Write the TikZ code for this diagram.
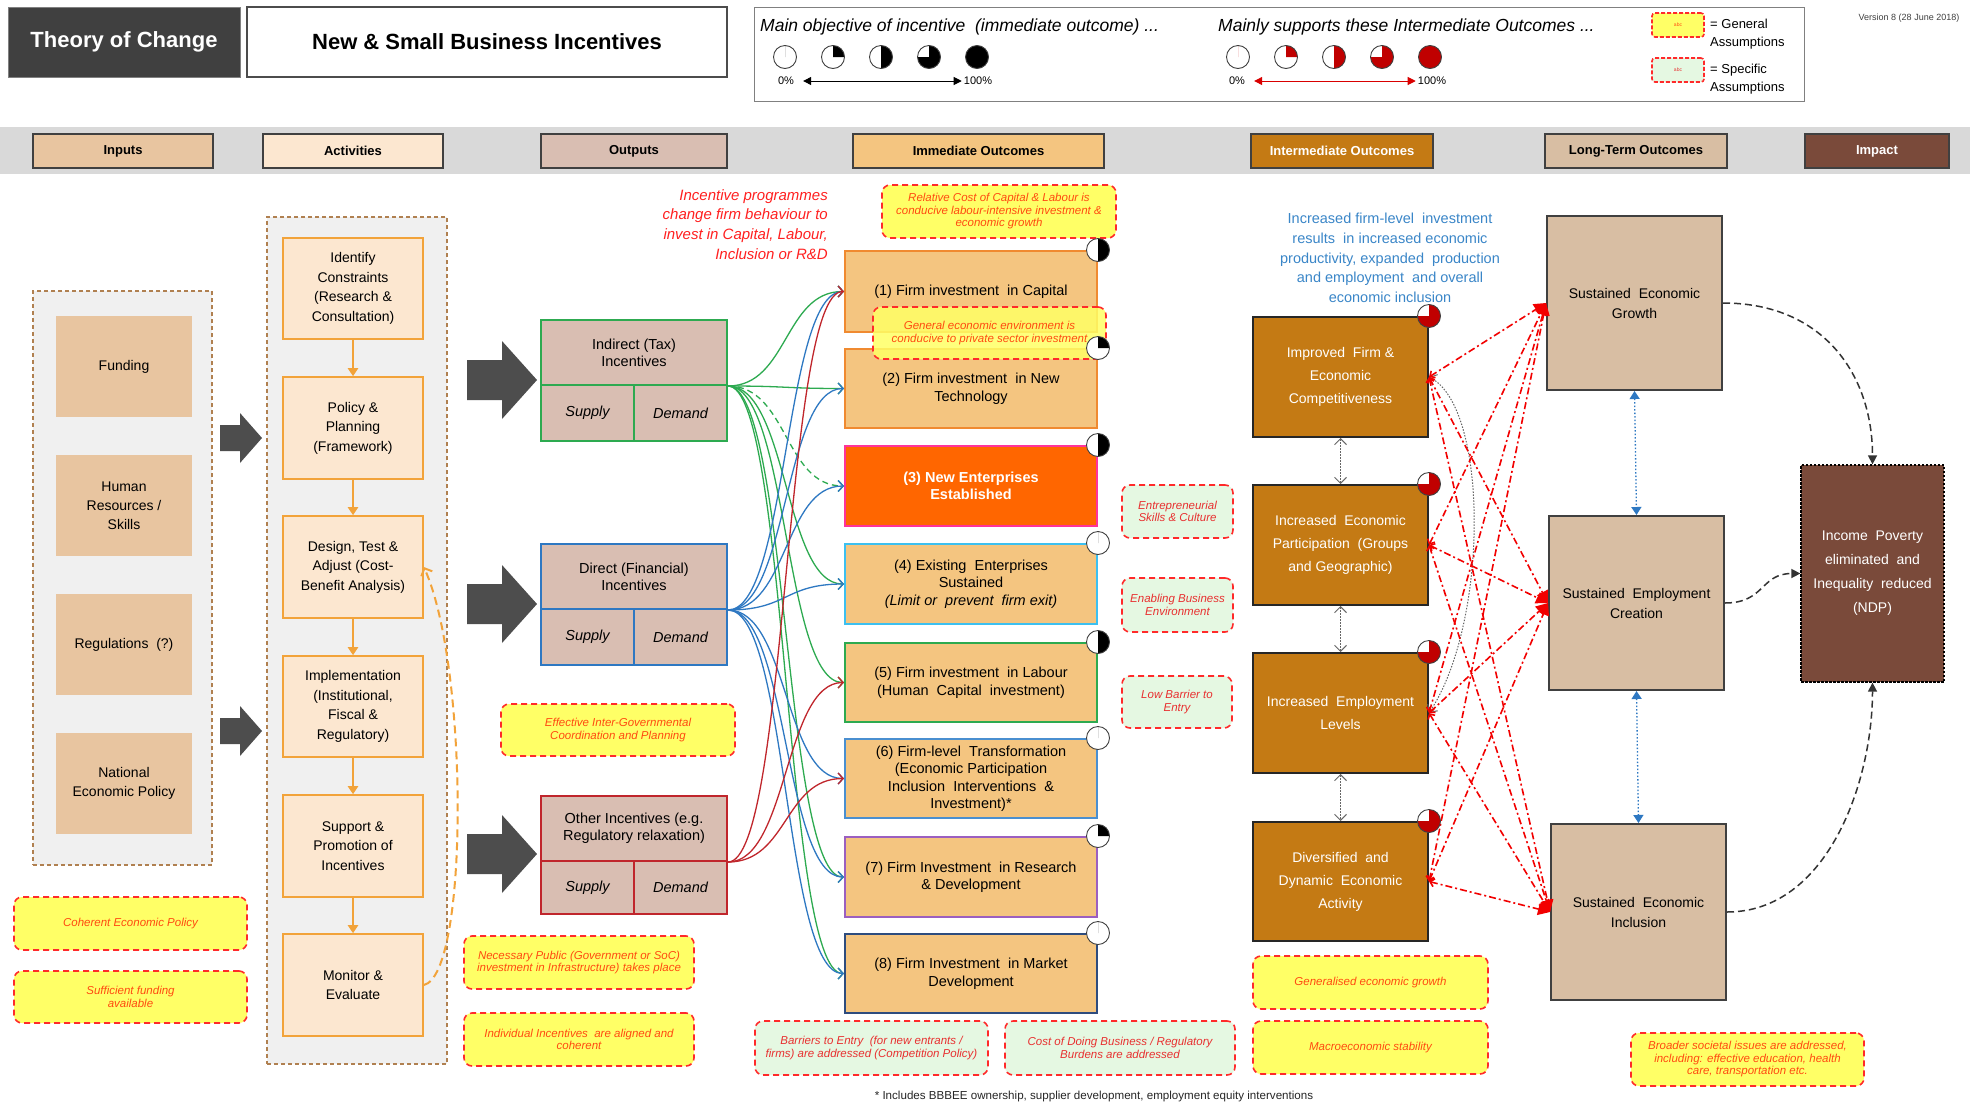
\documentclass[tikz,border=0pt]{standalone}
\usepackage{fontspec}
\setmainfont{Liberation Sans}
\usetikzlibrary{arrows.meta,calc}

\definecolor{tocgray}{HTML}{404040}
\definecolor{bandgray}{HTML}{D9D9D9}
\definecolor{boxgray}{HTML}{F0F0F0}
\definecolor{inputfill}{HTML}{E8C5A0}
\definecolor{actfill}{HTML}{FCE7D0}
\definecolor{actline}{HTML}{F2A33A}
\definecolor{outfill}{HTML}{D9BEB2}
\definecolor{immfill}{HTML}{F4C580}
\definecolor{intfill}{HTML}{C47A14}
\definecolor{longfill}{HTML}{D8BEA3}
\definecolor{impfill}{HTML}{7A4A3A}
\definecolor{contline}{HTML}{B08050}
\definecolor{asyellow}{HTML}{FFFF66}
\definecolor{asgreen}{HTML}{E5F8E2}
\definecolor{asred}{HTML}{FF2A2A}
\definecolor{astextY}{HTML}{FF4A10}
\definecolor{astextG}{HTML}{E83030}
\definecolor{gline}{HTML}{2DAA50}
\definecolor{bline}{HTML}{2E78C2}
\definecolor{rline}{HTML}{C0262C}
\definecolor{newent}{HTML}{FF6600}
\definecolor{pinkline}{HTML}{FF3399}
\definecolor{cyanline}{HTML}{3CC0F0}
\definecolor{purpline}{HTML}{9B5FC0}
\definecolor{navyline}{HTML}{2E4C7E}
\definecolor{orline}{HTML}{F08A30}
\definecolor{steelline}{HTML}{4A8FD0}
\definecolor{piered}{HTML}{C00000}
\definecolor{bluetext}{HTML}{3A86C8}
\definecolor{redtext}{HTML}{FF2020}
\definecolor{arrowgray}{HTML}{4D4D4D}

% box from corner coordinates: style, x1, y1, x2, y2, name, text
\newcommand{\mkbox}[7]{\node[inner sep=1pt, align=center, #1, minimum width={#4-#2}, minimum height={#5-#3}] (#6) at ({(#2+#4)/2},{(#3+#5)/2}) {#7};}
% pie marker: centre, start angle, end angle, fill colour
\newcommand{\piechart}[4]{%
  \fill[white] #1 circle[radius=11.5pt];
  \fill[#4] #1 -- ++(#2:11.5pt) arc[start angle=#2, end angle=#3, radius=11.5pt] -- cycle;
  \draw[black!75, line width=0.9pt] #1 circle[radius=11.5pt];}
% thick block arrow: x1, x2, y centre, body half height, head half height, head length
\newcommand{\bigarrow}[6]{%
  \fill[arrowgray] (#1,{#3-#4}) -- ({#2-#6},{#3-#4}) -- ({#2-#6},{#3-#5}) -- (#2,#3)
    -- ({#2-#6},{#3+#5}) -- ({#2-#6},{#3+#4}) -- (#1,{#3+#4}) -- cycle;}

\begin{document}
\begin{tikzpicture}[x=1pt,y=-1pt,
  tabbox/.style={draw=black!75, line width=1.3pt, font=\fontsize{13}{15}\selectfont\bfseries},
  container/.style={fill=boxgray, draw=contline, line width=1.6pt, dash pattern=on 4pt off 3pt},
  inbox/.style={fill=inputfill, font=\fontsize{14}{19}\selectfont},
  actbox/.style={fill=actfill, draw=actline, line width=1.6pt, font=\fontsize{14}{19.5}\selectfont},
  outbox/.style={fill=outfill, line width=2pt, font=\fontsize{14.5}{17}\selectfont},
  immbox/.style={fill=immfill, line width=2pt, font=\fontsize{14.5}{17.5}\selectfont},
  intbox/.style={fill=intfill, draw=black!85, line width=2pt, text=white, font=\fontsize{14}{23}\selectfont},
  longbox/.style={fill=longfill, draw=black!75, line width=2pt, font=\fontsize{14}{20}\selectfont},
  asm/.style={rounded corners=8pt, draw=asred, line width=1.6pt, dash pattern=on 6pt off 4pt, font=\fontsize{11.5}{12.5}\selectfont\itshape},
  asy/.style={asm, fill=asyellow, text=astextY},
  asg/.style={asm, fill=asgreen, text=astextG},
  gconn/.style={draw=gline, line width=1.3pt, -{Straight Barb[length=5pt,width=11pt]}},
  bconn/.style={draw=bline, line width=1.3pt, -{Straight Barb[length=5pt,width=11pt]}},
  rconn/.style={draw=rline, line width=1.3pt, -{Straight Barb[length=5pt,width=11pt]}},
  actarrow/.style={draw=actline, line width=2pt, -{Triangle[length=8pt,width=10pt]}},
  fback/.style={draw=actline, line width=2pt, dash pattern=on 8pt off 5pt, -{Straight Barb[length=6pt,width=12pt]}},
  rdd/.style={draw=red!95!black, line width=1.6pt, dash pattern=on 7pt off 3pt on 2pt off 3pt,
    {Straight Barb[length=4pt,width=8pt]}-{Triangle[length=12pt,width=12pt]}},
  gdot/.style={draw=black!60, line width=1pt, dash pattern=on 1.5pt off 1.5pt,
    {Straight Barb[length=6pt,width=12pt]}-{Straight Barb[length=6pt,width=12pt]}},
  bdot/.style={draw=bline, line width=1.3pt, dash pattern=on 1.5pt off 2pt,
    {Triangle[length=8pt,width=10pt]}-{Triangle[length=8pt,width=10pt]}},
  kdash/.style={draw=black!80, line width=1.5pt, dash pattern=on 7pt off 4pt, -{Triangle[length=9pt,width=9pt]}}
]
\useasboundingbox (0,0) rectangle (1982,1109);
\fill[white] (0,0) rectangle (1982,1109);

%% ---------- header ----------
\mkbox{fill=tocgray, draw=black!50, line width=1pt, text=white, font=\fontsize{22}{26}\selectfont\bfseries}{8}{7}{240}{77}{toc}{Theory of Change}
\mkbox{fill=white, draw=black!70, line width=1.2pt, font=\fontsize{22}{26}\selectfont\bfseries}{247}{7}{727}{77}{title}{New \& Small Business Incentives}
\mkbox{fill=white, draw=black!50, line width=1pt}{754}{7}{1804}{101}{legend}{}

\node[anchor=west, inner sep=0, font=\fontsize{17.5}{20}\selectfont\itshape] (lgA) at (760,27) {Main objective of incentive\ \ (immediate outcome) ...};
\node[anchor=west, inner sep=0, font=\fontsize{17.5}{20}\selectfont\itshape] (lgB) at (1218,27) {Mainly supports these Intermediate Outcomes ...};
\piechart{(785,57)}{90}{90}{black}
\piechart{(833,57)}{0}{90}{black}
\piechart{(881,57)}{-90}{90}{black}
\piechart{(929,57)}{180}{450}{black}
\piechart{(977,57)}{90}{450}{black}
\node[font=\fontsize{11}{12}\selectfont, inner sep=1pt] (lgz1) at (786,81) {0\%};
\node[font=\fontsize{11}{12}\selectfont, inner sep=1pt] (lgh1) at (978,81) {100\%};
\draw[black, line width=1pt, {Triangle[length=8pt,width=8pt]}-{Triangle[length=8pt,width=8pt]}] (lgz1.east) ++(8,0) -- ($(lgh1.west)+(-1,0)$);
\piechart{(1238,57)}{90}{90}{piered}
\piechart{(1286,57)}{0}{90}{piered}
\piechart{(1334,57)}{-90}{90}{piered}
\piechart{(1382,57)}{180}{450}{piered}
\piechart{(1430,57)}{90}{450}{piered}
\node[font=\fontsize{11}{12}\selectfont, inner sep=1pt] (lgz2) at (1237,81) {0\%};
\node[font=\fontsize{11}{12}\selectfont, inner sep=1pt] (lgh2) at (1432,81) {100\%};
\draw[red!85!black, line width=1pt, {Triangle[length=8pt,width=8pt]}-{Triangle[length=8pt,width=8pt]}] (lgz2.east) ++(8,0) -- ($(lgh2.west)+(-1,0)$);

\mkbox{asy, rounded corners=3pt, dash pattern=on 4pt off 2pt, font=\fontsize{5}{6}\selectfont}{1652}{13}{1704}{37}{smpY}{abc}
\mkbox{asg, rounded corners=3pt, dash pattern=on 4pt off 2pt, font=\fontsize{5}{6}\selectfont}{1652}{58}{1704}{82}{smpG}{abc}
\node[anchor=west, align=left, inner sep=0, font=\fontsize{13}{18}\selectfont] (lgGen) at (1710,34) {= General\\Assumptions};
\node[anchor=west, align=left, inner sep=0, font=\fontsize{13}{18}\selectfont] (lgSpec) at (1710,79) {= Specific\\Assumptions};
\node[font=\fontsize{9}{10}\selectfont, text=black!75] (ver) at (1909,18) {Version 8 (28 June 2018)};

%% ---------- column headings ----------
\fill[bandgray] (0,127) rectangle (1970,174);
\mkbox{tabbox, fill=inputfill}{33}{134}{213}{168}{tIn}{Inputs}
\mkbox{tabbox, fill=actfill}{263}{134}{443}{168}{tAct}{Activities}
\mkbox{tabbox, fill=outfill}{541}{134}{727}{168}{tOut}{Outputs}
\mkbox{tabbox, fill=immfill}{853}{134}{1104}{168}{tImm}{Immediate Outcomes}
\mkbox{tabbox, fill=intfill, text=white}{1251}{134}{1433}{168}{tInt}{Intermediate Outcomes}
\mkbox{tabbox, fill=longfill}{1545}{134}{1727}{168}{tLong}{Long-Term Outcomes}
\mkbox{tabbox, fill=impfill, text=white}{1805}{134}{1949}{168}{tImp}{Impact}

%% ---------- inputs ----------
\mkbox{container}{33}{291}{212}{865}{inpC}{}
\mkbox{inbox}{56}{316}{192}{417}{in1}{Funding}
\mkbox{inbox}{56}{455}{192}{556}{in2}{Human\\Resources /\\Skills}
\mkbox{inbox}{56}{594}{192}{695}{in3}{Regulations\ \ (?)}
\mkbox{inbox}{56}{733}{192}{834}{in4}{National\\Economic Policy}
\mkbox{asy}{14}{897}{247}{950}{asCoh}{Coherent Economic Policy}
\mkbox{asy}{14}{971}{247}{1023}{asFund}{Sufficient funding\\available}
\bigarrow{220}{262}{438}{13}{25}{22}
\bigarrow{220}{262}{731}{13}{25}{22}

%% ---------- activities ----------
\mkbox{container}{267}{217}{447}{1064}{actC}{}
\mkbox{actbox}{283}{238}{423}{339}{a1}{Identify\\Constraints\\(Research \&\\Consultation)}
\mkbox{actbox}{283}{377}{423}{479}{a2}{Policy \&\\Planning\\(Framework)}
\mkbox{actbox}{283}{516}{423}{618}{a3}{Design, Test \&\\Adjust (Cost-\\Benefit Analysis)}
\mkbox{actbox}{283}{656}{423}{757}{a4}{Implementation\\(Institutional,\\Fiscal \&\\Regulatory)}
\mkbox{actbox}{283}{795}{423}{897}{a5}{Support \&\\Promotion of\\Incentives}
\mkbox{actbox}{283}{934}{423}{1036}{a6}{Monitor \&\\Evaluate}
\foreach \p/\q in {a1/a2,a2/a3,a3/a4,a4/a5,a5/a6}
  {\draw[actarrow] (\p.south) -- (\q.north);}
\draw[fback] (a6.east) .. controls +(45,-10) and +(45,100) .. (a3.east);

%% ---------- outputs ----------
\bigarrow{467}{537}{380}{20}{39}{35}
\bigarrow{467}{537}{604}{20}{39}{35}
\bigarrow{467}{537}{854}{20}{39}{35}
\mkbox{outbox, draw=gline}{541}{320}{727}{385}{ind}{Indirect (Tax)\\Incentives}
\mkbox{outbox, draw=gline, font=\fontsize{14.5}{17}\selectfont\itshape}{541}{385}{634}{441}{indS}{Supply}
\mkbox{outbox, draw=gline, font=\fontsize{14.5}{17}\selectfont\itshape}{634}{385}{727}{441}{indD}{Demand}
\mkbox{outbox, draw=bline}{541}{544}{727}{609}{dir}{Direct (Financial)\\Incentives}
\mkbox{outbox, draw=bline, font=\fontsize{14.5}{17}\selectfont\itshape}{541}{609}{634}{665}{dirS}{Supply}
\mkbox{outbox, draw=bline, font=\fontsize{14.5}{17}\selectfont\itshape}{634}{609}{727}{665}{dirD}{Demand}
\mkbox{outbox, draw=rline}{541}{796}{727}{861}{oth}{Other Incentives (e.g.\\Regulatory relaxation)}
\mkbox{outbox, draw=rline, font=\fontsize{14.5}{17}\selectfont\itshape}{541}{861}{634}{914}{othS}{Supply}
\mkbox{outbox, draw=rline, font=\fontsize{14.5}{17}\selectfont\itshape}{634}{861}{727}{914}{othD}{Demand}
\mkbox{asy}{501}{704}{735}{756}{asInter}{Effective Inter-Governmental\\Coordination and Planning}
\mkbox{asy}{464}{936}{694}{989}{asPub}{Necessary Public (Government or SoC)\\investment in Infrastructure) takes place}
\mkbox{asy}{464}{1013}{694}{1066}{asAlign}{Individual Incentives\ \ are aligned and\\coherent}
\node[anchor=north east, align=right, inner sep=0, text=redtext, font=\fontsize{15}{19.7}\selectfont\itshape] (rtxt) at (828,189)
  {Incentive programmes\\change firm behaviour to\\invest in Capital, Labour,\\Inclusion or R\&D};

%% ---------- immediate outcomes ----------
\mkbox{immbox, draw=orline}{845}{251}{1097}{332}{o1}{(1) Firm investment\ \ in Capital}
\mkbox{immbox, draw=orline}{845}{349}{1097}{428}{o2}{(2) Firm investment\ \ in New\\Technology}
\mkbox{immbox, fill=newent, draw=pinkline, text=white, font=\fontsize{14.5}{17.5}\selectfont\bfseries}{845}{446}{1097}{526}{o3}{(3) New Enterprises\\Established}
\mkbox{immbox, draw=cyanline}{845}{544}{1097}{624}{o4}{(4) Existing\ \ Enterprises\\Sustained\\\textit{(Limit or\ \ prevent\ \ firm exit)}}
\mkbox{immbox, draw=gline}{845}{643}{1097}{722}{o5}{(5) Firm investment\ \ in Labour\\(Human\ \ Capital\ \ investment)}
\mkbox{immbox, draw=steelline}{845}{739}{1097}{818}{o6}{(6) Firm-level\ \ Transformation\\(Economic Participation\\Inclusion\ \ Interventions\ \ \&\\Investment)*}
\mkbox{immbox, draw=purpline}{845}{837}{1097}{917}{o7}{(7) Firm Investment\ \ in Research\\\& Development}
\mkbox{immbox, draw=navyline}{845}{934}{1097}{1013}{o8}{(8) Firm Investment\ \ in Market\\Development}
\mkbox{asy}{882}{185}{1116}{238}{asCost}{Relative Cost of Capital \& Labour is\\conducive labour-intensive investment \&\\economic growth}
\mkbox{asy, fill opacity=0.85, text opacity=1}{873}{307}{1106}{359}{asEnv}{General economic environment is\\conducive to private sector investment}
\piechart{(o1.north east)}{-90}{90}{black}
\piechart{(o2.north east)}{0}{90}{black}
\piechart{(o3.north east)}{-90}{90}{black}
\piechart{(o4.north east)}{90}{90}{black}
\piechart{(o5.north east)}{-90}{90}{black}
\piechart{(o6.north east)}{90}{90}{black}
\piechart{(o7.north east)}{0}{90}{black}
\piechart{(o8.north east)}{90}{90}{black}

\mkbox{asg}{1122}{485}{1233}{538}{asEnt}{Entrepreneurial\\Skills \& Culture}
\mkbox{asg}{1122}{578}{1233}{632}{asBiz}{Enabling Business\\Environment}
\mkbox{asg}{1122}{676}{1232}{728}{asLow}{Low Barrier to\\Entry}
\mkbox{asg}{755}{1021}{988}{1075}{asBar}{Barriers to Entry\ \ (for new entrants /\\firms) are addressed (Competition Policy)}
\mkbox{asg}{1005}{1021}{1235}{1075}{asBurd}{Cost of Doing Business / Regulatory\\Burdens are addressed}

%% output -> immediate outcome links
\foreach \t in {o1,o2,o4,o5,o7,o8}
  {\draw[gconn] (ind.south east) .. controls +(60,0) and +(-60,0) .. (\t.west);}
\draw[gconn, dash pattern=on 6pt off 4pt] (ind.south east) .. controls +(60,0) and +(-60,0) .. (o3.west);
\foreach \t in {o1,o2,o3,o4,o6,o7,o8}
  {\draw[bconn] (dir.south east) .. controls +(60,0) and +(-60,0) .. (\t.west);}
\foreach \t in {o1,o5,o6}
  {\draw[rconn] (oth.south east) .. controls +(60,0) and +(-60,0) .. (\t.west);}

%% ---------- intermediate outcomes ----------
\node[align=center, inner sep=0, text=bluetext, font=\fontsize{14.5}{19.7}\selectfont] (btxt) at (1390,258)
  {Increased firm-level\ \ investment\\results\ \ in increased economic\\productivity, expanded\ \ production\\and employment\ \ and overall\\economic inclusion};
\mkbox{intbox}{1253}{317}{1428}{437}{i1}{Improved\ \ Firm \&\\Economic\\Competitiveness}
\mkbox{intbox}{1253}{485}{1428}{605}{i2}{Increased\ \ Economic\\Participation\ \ (Groups\\and Geographic)}
\mkbox{intbox}{1253}{653}{1428}{773}{i3}{Increased\ \ Employment\\Levels}
\mkbox{intbox}{1253}{822}{1428}{941}{i4}{Diversified\ \ and\\Dynamic\ \ Economic\\Activity}
\mkbox{asy}{1253}{956}{1488}{1009}{asGrow}{Generalised economic growth}
\mkbox{asy}{1253}{1021}{1488}{1074}{asMacro}{Macroeconomic stability}
\foreach \p/\q in {i1/i2,i2/i3,i3/i4}
  {\draw[gdot] (\p.south) -- (\q.north);}
\draw[gdot] (i1.east) .. controls +(60,30) and +(60,-90) .. (i3.east);

%% ---------- long-term outcomes and impact ----------
\mkbox{longbox}{1547}{216}{1722}{390}{l1}{Sustained\ \ Economic\\Growth}
\mkbox{longbox}{1549}{516}{1724}{690}{l2}{Sustained\ \ Employment\\Creation}
\mkbox{longbox}{1551}{824}{1726}{1000}{l3}{Sustained\ \ Economic\\Inclusion}
\mkbox{fill=impfill, draw=black, line width=1.3pt, dash pattern=on 2.5pt off 1.5pt, text=white, font=\fontsize{14}{24}\selectfont}{1801}{465}{1944}{682}{imp}{Income\ \ Poverty\\eliminated\ \ and\\Inequality\ \ reduced\\(NDP)}
\mkbox{asy}{1631}{1033}{1864}{1086}{asSoc}{Broader societal issues are addressed,\\including: effective education, health\\care, transportation etc.}
\draw[bdot] (l1.south) -- (l2.north);
\draw[bdot] (l2.south) -- (l3.north);
\draw[kdash] (l1.east) .. controls +(100,0) and +(0,-90) .. (imp.north);
\draw[kdash] (l2.east) .. controls +(40,0) and +(-40,0) .. (imp.west);
\draw[kdash] (l3.east) .. controls +(100,0) and +(0,100) .. (imp.south);

%% intermediate -> long-term links
\foreach \a in {i1,i2,i3,i4}
  {\foreach \b in {l1,l2,l3}
    {\draw[rdd] (\a.east) -- (\b.west);}}
\foreach \a in {i1,i2,i3,i4}
  {\piechart{(\a.north east)}{180}{450}{piered}}

%% ---------- footnote ----------
\node[font=\fontsize{11.6}{12}\selectfont, text=black!85] (foot) at (1094,1096) {* Includes BBBEE ownership, supplier development, employment equity interventions};
\end{tikzpicture}
\end{document}
